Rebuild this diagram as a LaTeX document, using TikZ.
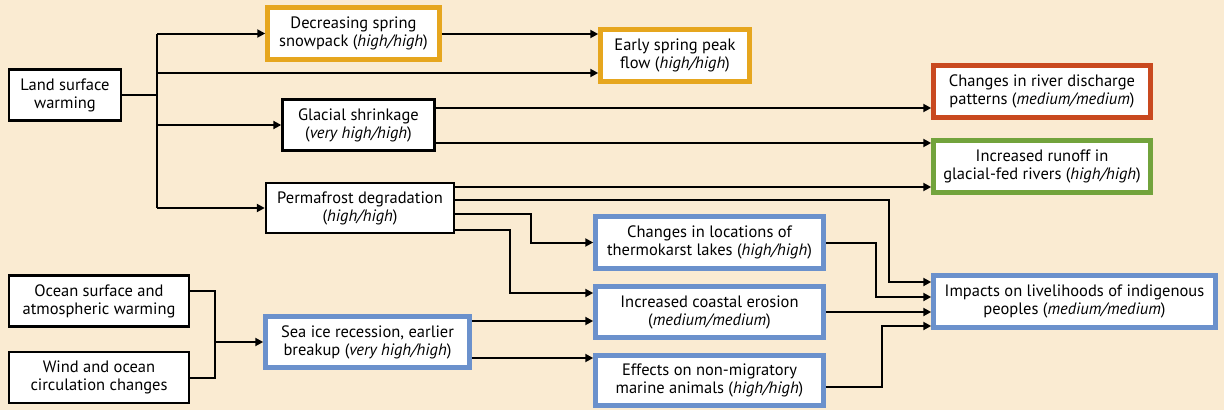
\documentclass[tikz,border=0pt]{standalone}
\usepackage{fontspec}
\setmainfont{PT Sans}
\usetikzlibrary{arrows.meta,calc}
\definecolor{bgbeige}{HTML}{FAEBD2}
\definecolor{boxorange}{HTML}{E6A61E}
\definecolor{boxred}{HTML}{C9491F}
\definecolor{boxgreen}{HTML}{72A33C}
\definecolor{boxblue}{HTML}{6B91CC}

\begin{document}
\begin{tikzpicture}[x=1pt,y=-1pt,line width=2pt,
    >={Triangle[length=8pt,width=8pt]},
    box/.style={draw=black,line width=2.4pt,fill=white,align=center,
      inner sep=1pt,font=\fontsize{16.5}{18}\selectfont},
    obox/.style={box,draw=boxorange,line width=4.5pt},
    rbox/.style={box,draw=boxred,line width=4.5pt},
    gbox/.style={box,draw=boxgreen,line width=4.5pt},
    bbox/.style={box,draw=boxblue,line width=4.5pt}]
  \useasboundingbox (0,0) rectangle (1224,410);
  \fill[bgbeige] (0,0) rectangle (1224,410);
  % drivers
  \node[box,minimum width=112pt,minimum height=51pt] (lsw) at (65,95)
    {Land surface\\warming};
  \node[box,minimum width=180pt,minimum height=51pt] (ocn) at (99,301)
    {Ocean surface and\\atmospheric warming};
  \node[box,minimum width=180pt,minimum height=51pt] (wnd) at (99,377.5)
    {Wind and ocean\\circulation changes};
  % first-order changes
  \node[obox,minimum width=172pt,minimum height=52pt] (dsp) at (353.5,33.5)
    {Decreasing spring\\snowpack (\textit{high/high})};
  \node[box,minimum width=152pt,minimum height=51pt] (glac) at (358.5,125)
    {Glacial shrinkage\\(\textit{very high/high})};
  \node[box,minimum width=188pt,minimum height=50pt] (perm) at (360,208)
    {Permafrost degradation\\(\textit{high/high})};
  \node[bbox,minimum width=204pt,minimum height=51pt] (sea) at (367.5,342)
    {Sea ice recession, earlier\\breakup (\textit{very high/high})};
  % impacts
  \node[obox,minimum width=149pt,minimum height=52pt] (esp) at (675,55.5)
    {Early spring peak\\flow (\textit{high/high})};
  \node[rbox,minimum width=217pt,minimum height=52pt] (dis) at (1042,91.5)
    {Changes in river discharge\\patterns (\textit{medium/medium})};
  \node[gbox,minimum width=217pt,minimum height=52pt] (run) at (1042,166.5)
    {Increased runoff in\\glacial-fed rivers (\textit{high/high})};
  \node[bbox,minimum width=228pt,minimum height=52pt] (thk) at (709.5,242.5)
    {Changes in locations of\\thermokarst lakes (\textit{high/high})};
  \node[bbox,minimum width=228pt,minimum height=51pt] (cst) at (709.5,312)
    {Increased coastal erosion\\(\textit{medium/medium})};
  \node[bbox,minimum width=228pt,minimum height=50pt] (eff) at (709.5,380.5)
    {Effects on non-migratory\\marine animals (\textit{high/high})};
  \node[bbox,minimum width=282pt,minimum height=52pt] (liv) at (1074.5,301.5)
    {Impacts on livelihoods of indigenous\\peoples (\textit{medium/medium})};
  % entry points
  \coordinate (trunk) at (157,95);
  \coordinate (join) at (215,340);
  \coordinate (esp-a) at ([yshift=21.5pt]esp.west);
  \coordinate (esp-b) at ([yshift=-17.5pt]esp.west);
  \coordinate (dis-a) at ([yshift=-16.5pt]dis.west);
  \coordinate (run-a) at ([yshift=23.5pt]run.west);
  \coordinate (run-b) at ([yshift=-20.5pt]run.west);
  \coordinate (cst-a) at ([yshift=19pt]cst.west);
  \coordinate (cst-b) at ([yshift=-9pt]cst.west);
  \coordinate (eff-a) at ([yshift=22.5pt]eff.west);
  \coordinate (liv-a) at ([yshift=19.5pt]liv.west);
  \coordinate (liv-b) at ([yshift=4.5pt]liv.west);
  \coordinate (liv-c) at ([yshift=-10.5pt]liv.west);
  \coordinate (liv-d) at ([yshift=-24.5pt]liv.west);
  % land surface warming branches
  \draw (lsw.east) -- (trunk);
  \draw (trunk |- dsp.west) -- (trunk |- perm.west);
  \foreach \t in {dsp,glac,perm}
    \draw[->] (trunk |- \t.west) -- (\t.west);
  \draw[->] (trunk |- esp-b) -- (esp-b);
  \draw[->] (dsp.east |- esp-a) -- (esp-a);
  % glacial and permafrost
  \draw[->] (glac.east |- dis-a) -- (dis-a);
  \draw[->] (glac.east |- run-a) -- (run-a);
  \draw[->] (perm.east |- run-b) -- (run-b);
  \draw[->] ([yshift=8pt]perm.east) -| ([xshift=-42pt]liv-a) -- (liv-a);
  \draw[->] ([yshift=-6pt]perm.east) -| ([xshift=-62pt]thk.west) -- (thk.west);
  \draw[->] ([yshift=-22pt]perm.east) -| ([xshift=-83pt]cst-a) -- (cst-a);
  % ocean side
  \draw ([yshift=10pt]ocn.east) -| (join |- wnd.east) -- (wnd.east);
  \draw[->] (join |- sea.west) -- (sea.west);
  \draw[->] (sea.east |- cst-b) -- (cst-b);
  \draw[->] (sea.east |- eff-a) -- (eff-a);
  % into livelihoods
  \draw[->] (thk.east) -| ([xshift=-55pt]liv-b) -- (liv-b);
  \draw[->] (cst.east |- liv-c) -- (liv-c);
  \draw[->] ([yshift=-6.5pt]eff.east) -| ([xshift=-49pt]liv-d) -- (liv-d);
\end{tikzpicture}
\end{document}
